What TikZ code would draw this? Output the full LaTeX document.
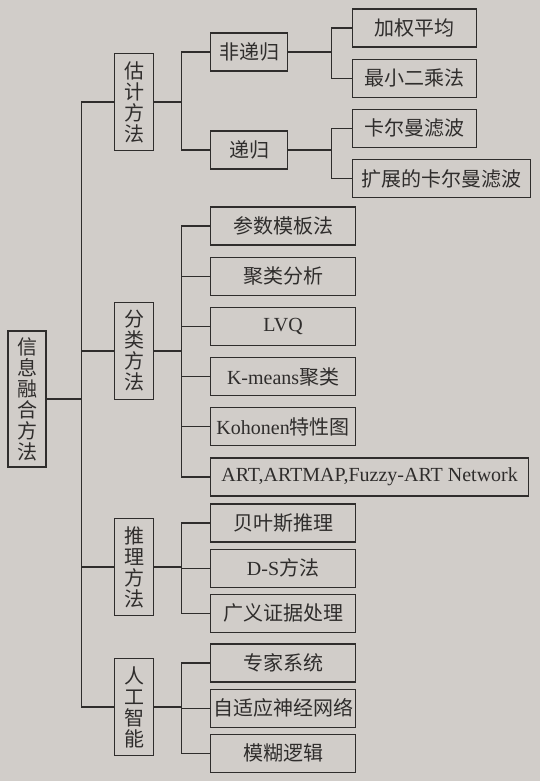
\documentclass[tikz,border=0pt]{standalone}
\usepackage{fontspec}
\setmainfont{Liberation Serif}
\newfontfamily\cjk{Noto Sans CJK SC}
\usepackage{tikz}
\usetikzlibrary{positioning}
\definecolor{pagePaper}{HTML}{D1CDC9}
\definecolor{pageInk}{HTML}{2F2D2C}
\newcommand{\latin}[1]{{\rmfamily #1}}
\tikzset{
  link/.style={draw=pageInk, line width=1.2pt},
  root box/.style={draw=pageInk, line width=1.2pt, text=pageInk,
    align=center, minimum width=38pt, minimum height=136pt, inner sep=1pt,
    font=\cjk\fontsize{20}{21}\selectfont},
  method box/.style={root box, minimum width=39pt, minimum height=97pt},
  item box/.style={draw=pageInk, line width=1.2pt, text=pageInk,
    anchor=west, minimum width=145pt, minimum height=38pt, inner sep=1pt,
    font=\cjk\fontsize{20}{21}\selectfont},
  leaf box/.style={item box, minimum width=124pt}
}
\begin{document}
\begin{tikzpicture}[x=1pt, y=-1pt]
  \fill[pagePaper] (0,0) rectangle (540,781);
  % root and the four method groups
  \node[root box] (fusion) at (27,399) {信\\息\\融\\合\\方\\法};
  \node[method box] (estim) at (134,102) {估\\计\\方\\法};
  \node[method box] (classif) at (134,351) {分\\类\\方\\法};
  \node[method box] (reason) at (134,567) {推\\理\\方\\法};
  \node[method box] (ai) at (134,707) {人\\工\\智\\能};
  % estimation
  \node[item box, minimum width=77pt] (nonrec) at (210,52) {非递归};
  \node[item box, minimum width=77pt] (rec) at (210,150) {递归};
  \node[leaf box] (wavg) at (352,28) {加权平均};
  \node[leaf box, below=11pt of wavg.south west, anchor=north west] (lsq) {最小二乘法};
  \node[leaf box, below=11pt of lsq.south west, anchor=north west] (kalman) {卡尔曼滤波};
  \node[leaf box, minimum width=178pt, below=11pt of kalman.south west,
    anchor=north west] (ekf) {扩展的卡尔曼滤波};
  % classification
  \node[item box] (template) at (210,226) {参数模板法};
  \node[item box, below=11pt of template.south west, anchor=north west] (cluster) {聚类分析};
  \node[item box, below=11pt of cluster.south west, anchor=north west] (lvq) {\latin{LVQ}};
  \node[item box, below=11pt of lvq.south west, anchor=north west] (kmeans) {\latin{K-means}聚类};
  \node[item box, below=11pt of kmeans.south west, anchor=north west] (kohonen) {\latin{Kohonen}特性图};
  \node[item box, minimum width=318pt, below=11pt of kohonen.south west,
    anchor=north west] (art) {\latin{ART,ARTMAP,Fuzzy-ART Network}};
  % reasoning
  \node[item box] (bayes) at (210,523) {贝叶斯推理};
  \node[item box, below=6pt of bayes.south west, anchor=north west] (ds) {\latin{D-S}方法};
  \node[item box, below=6pt of ds.south west, anchor=north west] (evid) {广义证据处理};
  % artificial intelligence
  \node[item box] (expert) at (210,663) {专家系统};
  \node[item box, below=6pt of expert.south west, anchor=north west] (ann) {自适应神经网络};
  \node[item box, below=6pt of ann.south west, anchor=north west] (fuzzy) {模糊逻辑};
  % connectors
  \draw[link] (fusion.east) -- ++(35,0) |- (estim.west);
  \draw[link] (fusion.east) -- ++(35,0) |- (classif.west);
  \draw[link] (fusion.east) -- ++(35,0) |- (reason.west);
  \draw[link] (fusion.east) -- ++(35,0) |- (ai.west);
  \draw[link] (estim.east) -- ++(27,0) |- (nonrec.west);
  \draw[link] (estim.east) -- ++(27,0) |- (rec.west);
  \draw[link] (nonrec.east) -- ++(43,0) |- (wavg.west);
  \draw[link] (nonrec.east) -- ++(43,0) |- (lsq.west);
  \draw[link] (rec.east) -- ++(43,0) |- (kalman.west);
  \draw[link] (rec.east) -- ++(43,0) |- (ekf.west);
  \draw[link] (classif.east) -- ++(27,0) |- (template.west);
  \draw[link] (classif.east) -- ++(27,0) |- (cluster.west);
  \draw[link] (classif.east) -- ++(27,0) |- (lvq.west);
  \draw[link] (classif.east) -- ++(27,0) |- (kmeans.west);
  \draw[link] (classif.east) -- ++(27,0) |- (kohonen.west);
  \draw[link] (classif.east) -- ++(27,0) |- (art.west);
  \draw[link] (reason.east) -- ++(27,0) |- (bayes.west);
  \draw[link] (reason.east) -- ++(27,0) |- (ds.west);
  \draw[link] (reason.east) -- ++(27,0) |- (evid.west);
  \draw[link] (ai.east) -- ++(27,0) |- (expert.west);
  \draw[link] (ai.east) -- ++(27,0) |- (ann.west);
  \draw[link] (ai.east) -- ++(27,0) |- (fuzzy.west);
\end{tikzpicture}
\end{document}
